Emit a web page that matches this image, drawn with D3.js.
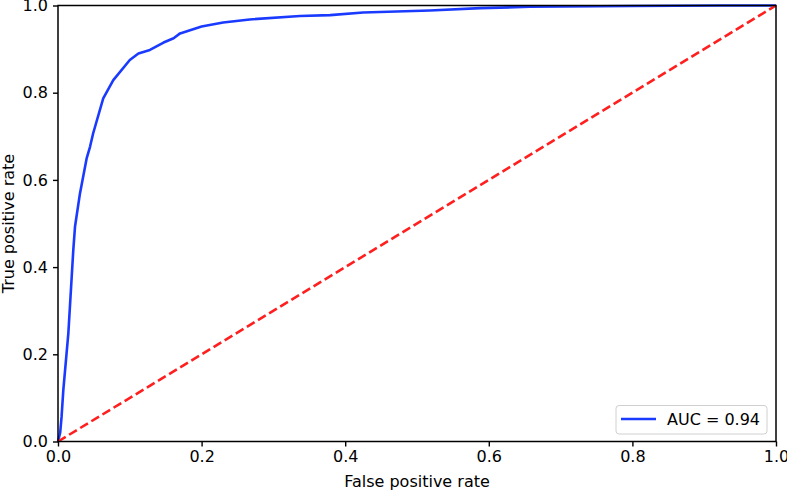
<!DOCTYPE html>
<html>
<head>
<meta charset="utf-8">
<script src="https://cdn.jsdelivr.net/npm/d3@7"></script>
<style>
  html, body { margin: 0; padding: 0; background: #fff; }
  svg { display: block; font-family: "DejaVu Sans", sans-serif; }
</style>
</head>
<body>
<svg id="chart" width="787" height="491"></svg>
<script>
// ROC curve data
const fpr = [0, 0.003, 0.005, 0.0074, 0.0144, 0.0213, 0.0237, 0.0306, 0.040, 0.0446, 0.049, 0.063, 0.077, 0.100, 0.112, 0.128, 0.147, 0.161, 0.170, 0.200, 0.230, 0.267, 0.337, 0.379, 0.425, 0.518, 0.588, 0.657, 0.80, 0.922, 1.0];
const tpr = [0, 0.020, 0.057, 0.118, 0.248, 0.439, 0.493, 0.569, 0.650, 0.676, 0.707, 0.787, 0.829, 0.875, 0.890, 0.898, 0.915, 0.925, 0.936, 0.952, 0.961, 0.968, 0.976, 0.978, 0.984, 0.9885, 0.994, 0.997, 0.999, 1.0, 1.0];
const chanceX = [0, 1];
const chanceY = [0, 1];
const xTicks = [0, 0.2, 0.4, 0.6, 0.8, 1.0];
const yTicks = [0, 0.2, 0.4, 0.6, 0.8, 1.0];
const legendLabel = "AUC = 0.94";
const xLabel = "False positive rate";
const yLabel = "True positive rate";

(function () {
const svg = d3.select("#chart");
const mL = 58, mR = 776, mT = 5.5, mB = 441.5;

const x = d3.scaleLinear().domain([0, 1]).range([mL, mR]);
const y = d3.scaleLinear().domain([0, 1]).range([mB, mT]);

svg.append("rect").attr("x", mL).attr("y", mT)
  .attr("width", mR - mL).attr("height", mB - mT)
  .attr("fill", "#fff");

const line = d3.line().x(d => x(d[0])).y(d => y(d[1]));

// ROC curve
svg.append("path")
  .datum(fpr.map((f, i) => [f, tpr[i]]))
  .attr("d", line)
  .attr("fill", "none")
  .attr("stroke", "#1a3bff")
  .attr("stroke-width", 2.6)
  .attr("stroke-linejoin", "round");

// chance line
svg.append("path")
  .datum(chanceX.map((v, i) => [v, chanceY[i]]))
  .attr("d", line)
  .attr("fill", "none")
  .attr("stroke", "#ff1f1f")
  .attr("stroke-width", 2.6)
  .attr("stroke-dasharray", "9,4");

// axes
const fmt = d3.format(".1f");
const xAxis = svg.append("g").attr("transform", `translate(0,${mB})`)
  .call(d3.axisBottom(x).tickValues(xTicks).tickFormat(fmt).tickSize(5).tickPadding(4));
const yAxis = svg.append("g").attr("transform", `translate(${mL},0)`)
  .call(d3.axisLeft(y).tickValues(yTicks).tickFormat(fmt).tickSize(5).tickPadding(5));
[xAxis, yAxis].forEach(g => {
  g.select(".domain").remove();
  g.selectAll(".tick line").attr("stroke", "#000").attr("stroke-width", 1.4);
  g.selectAll(".tick text").attr("fill", "#000").style("font-size", "16px")
    .style("font-family", "'DejaVu Sans', sans-serif");
});

// frame
svg.append("rect").attr("x", mL).attr("y", mT)
  .attr("width", mR - mL).attr("height", mB - mT)
  .attr("fill", "none").attr("stroke", "#000").attr("stroke-width", 1.5);

// axis labels
svg.append("text").attr("x", (mL + mR) / 2).attr("y", 487)
  .attr("text-anchor", "middle").style("font-size", "16px").text(xLabel);
svg.append("text")
  .attr("transform", `translate(14,${(mT + mB) / 2}) rotate(-90)`)
  .attr("text-anchor", "middle").style("font-size", "16px").text(yLabel);

// legend
const lg = svg.append("g");
lg.append("rect").attr("x", 616).attr("y", 405.5).attr("width", 151).attr("height", 28.5)
  .attr("rx", 3).attr("fill", "#fff").attr("fill-opacity", 0.8)
  .attr("stroke", "#d0d0d0").attr("stroke-width", 1);
lg.append("line").attr("x1", 621).attr("x2", 656).attr("y1", 419).attr("y2", 419)
  .attr("stroke", "#1a3bff").attr("stroke-width", 2.6);
lg.append("text").attr("x", 667).attr("y", 425).style("font-size", "16px").text(legendLabel);
})();
</script>
</body>
</html>
